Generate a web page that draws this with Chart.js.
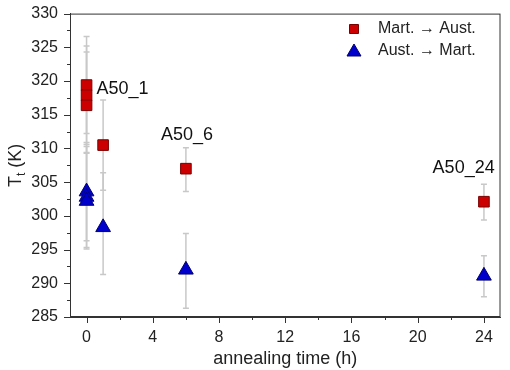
<!DOCTYPE html>
<html>
<head>
<meta charset="utf-8">
<script src="https://cdn.jsdelivr.net/npm/chart.js@4.4.1/dist/chart.umd.min.js"></script>
<style>
  html, body { margin: 0; padding: 0; background: #fff; }
  #wrap { width: 510px; height: 370px; }
</style>
</head>
<body>
<div id="wrap"><canvas id="chart"></canvas></div>
<script>
const xTicks = [0, 4, 8, 12, 16, 20, 24];
const xMinorTicks = [2, 6, 10, 14, 18, 22];
const yTicks = [285, 290, 295, 300, 305, 310, 315, 320, 325, 330];
const yMinorTicks = [287.5, 292.5, 297.5, 302.5, 307.5, 312.5, 317.5, 322.5, 327.5];

// annealing time (h)
const martX = [0, 0, 0, 1, 6, 24];
const martY = [319.4, 317.9, 316.4, 310.5, 307.0, 302.1];
const martErrUp = [7.2, 7.3, 7.9, 6.7, 3.1, 2.6];
const martErrDown = [7.2, 7.3, 7.0, 6.7, 3.4, 2.7];

const austX = [0, 0, 0, 1, 6, 24];
const austY = [303.6, 302.8, 302.2, 298.3, 292.0, 291.1];
const austErrUp = [7.3, 7.5, 7.1, 8.1, 5.4, 3.0];
const austErrDown = [7.3, 7.5, 7.1, 7.0, 5.7, 3.1];

const sampleNames = ["A50_1", "A50_6", "A50_24"];
const sampleX = [0.6, 4.5, 20.9];
const sampleY = [318.8, 312.0, 307.1];

const FONT = "'Liberation Sans', Arial, sans-serif";
const TEXT = "#222";

function toPoints(xs, ys) {
  return xs.map(function (x, i) { return { x: x, y: ys[i] }; });
}

function drawMarker(ctx, style, x, y, fill, stroke) {
  ctx.save();
  ctx.fillStyle = fill;
  ctx.strokeStyle = stroke;
  ctx.lineWidth = 1;
  ctx.beginPath();
  if (style === "rect") {
    ctx.rect(x - 4.5, y - 4.5, 9, 9);
  } else {
    ctx.moveTo(x, y - 7);
    ctx.lineTo(x + 7, y + 5);
    ctx.lineTo(x - 7, y + 5);
    ctx.closePath();
  }
  ctx.fill();
  ctx.stroke();
  ctx.restore();
}

const extras = {
  id: "extras",
  beforeDatasetsDraw(chart) {
    const ctx = chart.ctx;
    const xs = chart.scales.x, ys = chart.scales.y;
    ctx.save();
    ctx.strokeStyle = "#c8c8c8";
    ctx.lineWidth = 1.5;
    chart.data.datasets.forEach(function (ds) {
      ds.data.forEach(function (p, i) {
        const px = xs.getPixelForValue(p.x);
        const top = ys.getPixelForValue(p.y + ds.errorUp[i]);
        const bot = ys.getPixelForValue(p.y - ds.errorDown[i]);
        ctx.beginPath();
        ctx.moveTo(px, top); ctx.lineTo(px, bot);
        ctx.moveTo(px - 3, top); ctx.lineTo(px + 3, top);
        ctx.moveTo(px - 3, bot); ctx.lineTo(px + 3, bot);
        ctx.stroke();
      });
    });
    ctx.restore();
  },
  afterDraw(chart) {
    const ctx = chart.ctx;
    const a = chart.chartArea;
    const xs = chart.scales.x, ys = chart.scales.y;
    ctx.save();
    // frame
    ctx.strokeStyle = "#333";
    ctx.lineWidth = 1;
    ctx.strokeRect(a.left + 0.5, a.top + 0.5, a.right - a.left - 1, a.bottom - a.top - 1);
    // tick marks, outward
    ctx.beginPath();
    xTicks.forEach(function (v) {
      const px = Math.round(xs.getPixelForValue(v)) + 0.5;
      ctx.moveTo(px, a.bottom); ctx.lineTo(px, a.bottom + 6);
    });
    xMinorTicks.forEach(function (v) {
      const px = Math.round(xs.getPixelForValue(v)) + 0.5;
      ctx.moveTo(px, a.bottom); ctx.lineTo(px, a.bottom + 3);
    });
    yTicks.forEach(function (v) {
      const py = Math.round(ys.getPixelForValue(v)) + 0.5;
      ctx.moveTo(a.left, py); ctx.lineTo(a.left - 6, py);
    });
    yMinorTicks.forEach(function (v) {
      const py = Math.round(ys.getPixelForValue(v)) + 0.5;
      ctx.moveTo(a.left, py); ctx.lineTo(a.left - 3, py);
    });
    ctx.stroke();

    // sample labels
    ctx.fillStyle = "#111";
    ctx.font = "18px " + FONT;
    ctx.textAlign = "left";
    ctx.textBaseline = "middle";
    sampleNames.forEach(function (t, i) {
      ctx.fillText(t, xs.getPixelForValue(sampleX[i]), ys.getPixelForValue(sampleY[i]));
    });

    // legend
    ctx.font = "16px " + FONT;
    ctx.fillStyle = TEXT;
    chart.data.datasets.forEach(function (ds, i) {
      const ly = 29 + i * 22;
      drawMarker(ctx, ds.pointStyle, 354, ly, ds.backgroundColor, ds.borderColor);
      ctx.fillText(ds.label, 378, ly);
    });

    // y title with subscript
    ctx.translate(21, 187);
    ctx.rotate(-Math.PI / 2);
    ctx.textBaseline = "alphabetic";
    ctx.font = "18px " + FONT;
    ctx.fillText("T", 0, 0);
    let w = ctx.measureText("T").width;
    ctx.font = "12px " + FONT;
    ctx.fillText("t", w, 4);
    w += ctx.measureText("t").width;
    ctx.font = "18px " + FONT;
    ctx.fillText(" (K)", w, 0);
    ctx.restore();
  }
};

const ctx = document.getElementById("chart").getContext("2d");

new Chart(ctx, {
  type: "scatter",
  data: {
    datasets: [
      {
        label: "Mart. \u2192 Aust.",
        data: toPoints(martX, martY),
        errorUp: martErrUp,
        errorDown: martErrDown,
        pointStyle: "rect",
        pointRadius: 7.5,
        backgroundColor: "#cc0000",
        borderColor: "#7a0000",
        borderWidth: 1,
      },
      {
        label: "Aust. \u2192 Mart.",
        data: toPoints(austX, austY),
        errorUp: austErrUp,
        errorDown: austErrDown,
        pointStyle: "triangle",
        pointRadius: 8.5,
        backgroundColor: "#0000cc",
        borderColor: "#00006e",
        borderWidth: 1,
      },
    ],
  },
  options: {
    responsive: true,
    maintainAspectRatio: false,
    animation: false,
    layout: { padding: { top: 6, right: 8, left: 0, bottom: 0 } },
    plugins: {
      legend: { display: false },
      tooltip: { enabled: false },
    },
    scales: {
      x: {
        type: "linear",
        min: -1,
        max: 25,
        afterBuildTicks: function (scale) {
          scale.ticks = xTicks.map(function (v) { return { value: v }; });
        },
        afterFit: function (scale) { scale.height = 53; },
        grid: { display: false },
        border: { display: true, color: "#333" },
        ticks: { padding: 3, color: TEXT, font: { size: 16, family: FONT } },
        title: {
          display: true,
          text: "annealing time (h)",
          color: TEXT,
          font: { size: 18, family: FONT },
          padding: { top: 0, bottom: 0 },
        },
      },
      y: {
        type: "linear",
        min: 285,
        max: 330,
        afterBuildTicks: function (scale) {
          scale.ticks = yTicks.map(function (v) { return { value: v }; });
        },
        afterFit: function (scale) { scale.width = 70; },
        grid: { display: false },
        border: { display: true, color: "#333" },
        ticks: { padding: 4, color: TEXT, font: { size: 16, family: FONT } },
      },
    },
  },
  plugins: [extras],
});
</script>
</body>
</html>
